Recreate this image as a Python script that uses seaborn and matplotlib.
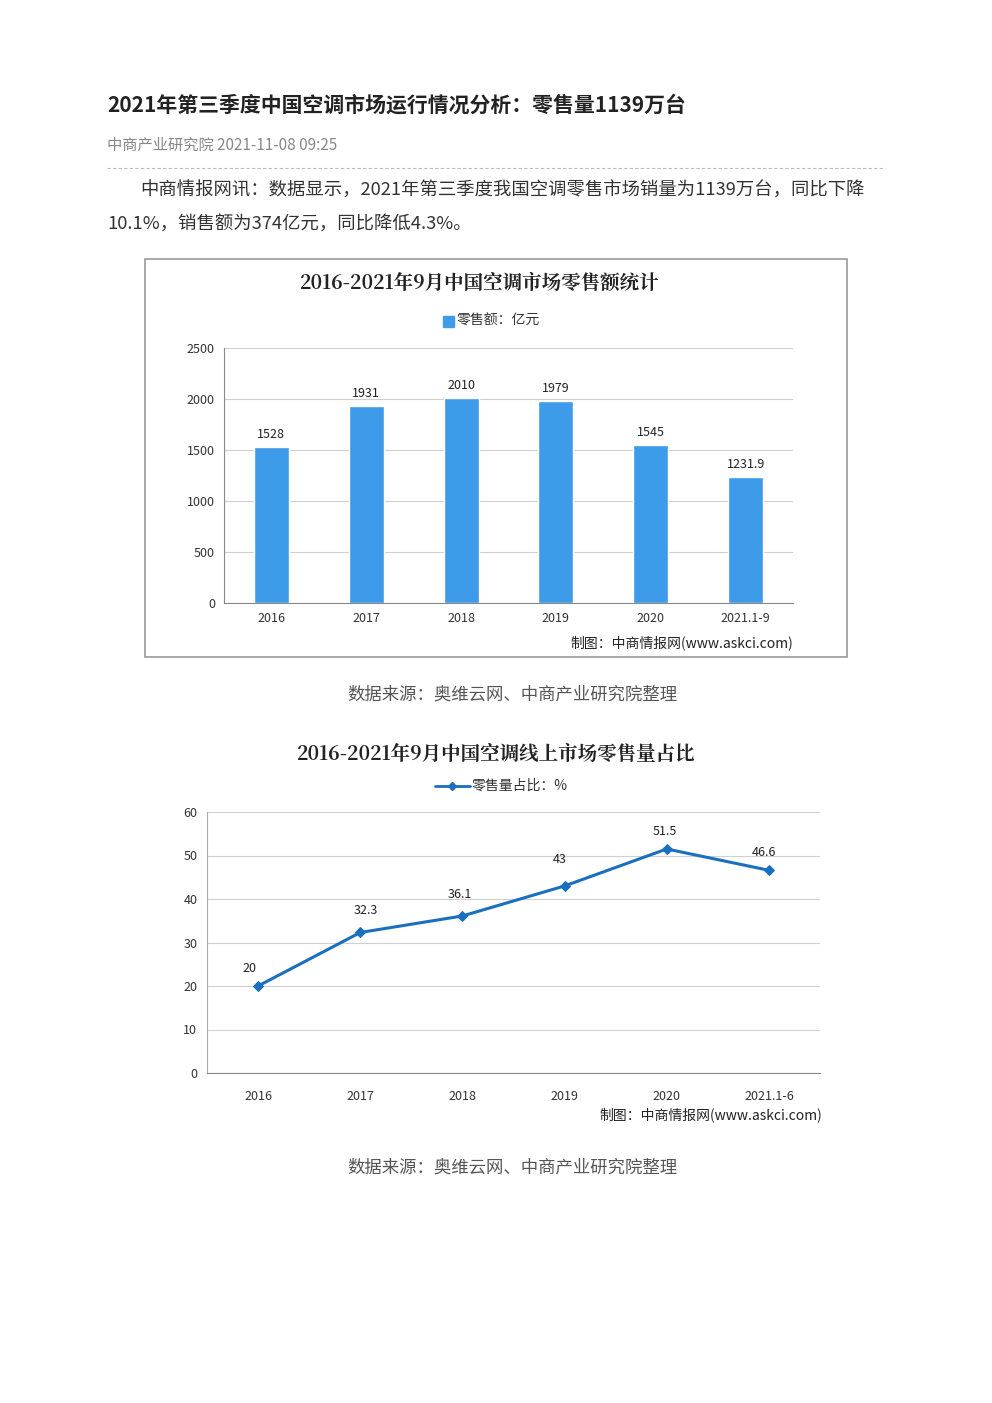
import matplotlib
matplotlib.use("Agg")
import matplotlib.pyplot as plt
import seaborn as sns
import pandas as pd
from matplotlib.patches import Rectangle
from matplotlib.lines import Line2D

sns.set_style("white")
plt.rcParams['font.family'] = ['Noto Sans CJK SC', 'DejaVu Sans']

years1 = ["2016", "2017", "2018", "2019", "2020", "2021.1-9"]
sales = [1528, 1931, 2010, 1979, 1545, 1231.9]
sales_labels = ["1528", "1931", "2010", "1979", "1545", "1231.9"]
years2 = ["2016", "2017", "2018", "2019", "2020", "2021.1-6"]
share = [20, 32.3, 36.1, 43, 51.5, 46.6]
share_labels = ["20", "32.3", "36.1", "43", "51.5", "46.6"]

W, H = 992, 1403
fig = plt.figure(figsize=(9.92, 14.03), dpi=100)
fig.patch.set_facecolor("white")

def fx(x): return x / W
def fy(y): return 1 - y / H

serif = ['Noto Serif CJK SC', 'Noto Sans CJK SC', 'DejaVu Sans']

fig.text(fx(107), fy(105), "2021年第三季度中国空调市场运行情况分析：零售量1139万台",
         fontsize=15, fontweight="bold", color="#222222", va="center")
fig.text(fx(107), fy(145), "中商产业研究院 2021-11-08 09:25", fontsize=11,
         color="#888888", va="center")
fig.add_artist(Line2D([fx(107), fx(885)], [fy(168), fy(168)], color="#bbbbbb",
                      linestyle=(0, (3, 2)), lw=0.8))
fig.text(fx(140), fy(191), "中商情报网讯：数据显示，2021年第三季度我国空调零售市场销量为1139万台，同比下降",
         fontsize=13.2, color="#333333", va="center")
fig.text(fx(107), fy(224), "10.1%，销售额为374亿元，同比降低4.3%。",
         fontsize=13.2, color="#333333", va="center")

# Chart 1 box
fig.add_artist(Rectangle((fx(145), fy(657)), fx(847 - 145), (657 - 259) / H,
                         fill=False, edgecolor="#999999", lw=1.2))
fig.text(fx(480), fy(283), "2016-2021年9月中国空调市场零售额统计", fontsize=14,
         fontweight="bold", ha="center", va="center", color="#222222", family=serif)
fig.add_artist(Rectangle((fx(443), fy(327)), 11 / W, 11 / H, color="#3d9be9"))
fig.text(fx(457), fy(321), "零售额：亿元", fontsize=10, va="center", color="#333333")

ax1 = fig.add_axes([fx(224), fy(603), fx(793 - 224), (603 - 348) / H])
df1 = pd.DataFrame({"year": years1, "sales": sales})
sns.barplot(data=df1, x="year", y="sales", color="#3d9be9", saturation=1, width=0.37, ax=ax1)
ax1.set_ylim(0, 2500)
ax1.set_yticks(range(0, 2501, 500))
ax1.yaxis.grid(True, color="#d0d0d0", lw=0.8)
ax1.set_axisbelow(True)
for s in ["top", "right"]:
    ax1.spines[s].set_visible(False)
ax1.spines["left"].set_color("#888888")
ax1.spines["bottom"].set_color("#888888")
ax1.set_xlabel(""); ax1.set_ylabel("")
ax1.tick_params(labelsize=9, colors="#333333", length=3)
for i, (v, lab) in enumerate(zip(sales, sales_labels)):
    ax1.text(i, v + 60, lab, ha="center", va="bottom", fontsize=9, color="#222222")
fig.text(fx(793), fy(643), "制图：中商情报网(www.askci.com)", fontsize=10, ha="right", va="center", color="#222222")

fig.text(fx(512), fy(695), "数据来源：奥维云网、中商产业研究院整理", fontsize=12.5, ha="center", va="center", color="#555555")

# Chart 2
fig.text(fx(496), fy(754), "2016-2021年9月中国空调线上市场零售量占比", fontsize=14,
         fontweight="bold", ha="center", va="center", color="#222222", family=serif)
fig.add_artist(Line2D([fx(435), fx(470)], [fy(786), fy(786)], color="#1a6fbf", lw=2))
fig.add_artist(Line2D([fx(452)], [fy(786)], color="#1a6fbf", marker="D", markersize=4))
fig.text(fx(472), fy(786), "零售量占比：%", fontsize=10, va="center", color="#333333")

ax2 = fig.add_axes([fx(207), fy(1073), fx(820 - 207), (1073 - 812) / H])
df2 = pd.DataFrame({"pos": list(range(len(years2))), "share": share})
sns.lineplot(data=df2, x="pos", y="share", color="#1a6fbf", lw=2.2, marker="D",
             markersize=5, markeredgecolor="#1a6fbf", ax=ax2)
ax2.set_xlim(-0.5, 5.5)
ax2.set_xticks([i for i in range(6)])
ax2.set_xticklabels(years2)
ax2.set_xticks([i - 0.5 for i in range(7)], minor=True)
ax2.tick_params(axis="x", which="major", length=0, pad=12)
ax2.tick_params(axis="x", which="minor", length=4, color="#888888")
ax2.set_ylim(0, 60)
ax2.set_yticks(range(0, 61, 10))
ax2.yaxis.grid(True, color="#d0d0d0", lw=0.8)
for s in ["top", "right"]:
    ax2.spines[s].set_visible(False)
ax2.spines["left"].set_color("#aaaaaa")
ax2.spines["bottom"].set_color("#888888")
ax2.set_xlabel(""); ax2.set_ylabel("")
ax2.tick_params(labelsize=9, colors="#333333")
offs = [(-0.08, 2.5), (0.05, 3.5), (-0.03, 3.5), (-0.05, 4.5), (-0.02, 2.5), (-0.05, 2.5)]
for i, (v, lab) in enumerate(zip(share, share_labels)):
    ax2.text(i + offs[i][0], v + offs[i][1], lab, ha="center", va="bottom", fontsize=9, color="#222222")
fig.text(fx(822), fy(1115), "制图：中商情报网(www.askci.com)", fontsize=10, ha="right", va="center", color="#222222")

fig.text(fx(512), fy(1168), "数据来源：奥维云网、中商产业研究院整理", fontsize=12.5, ha="center", va="center", color="#555555")

fig.savefig("out.png", dpi=100, facecolor="white")
